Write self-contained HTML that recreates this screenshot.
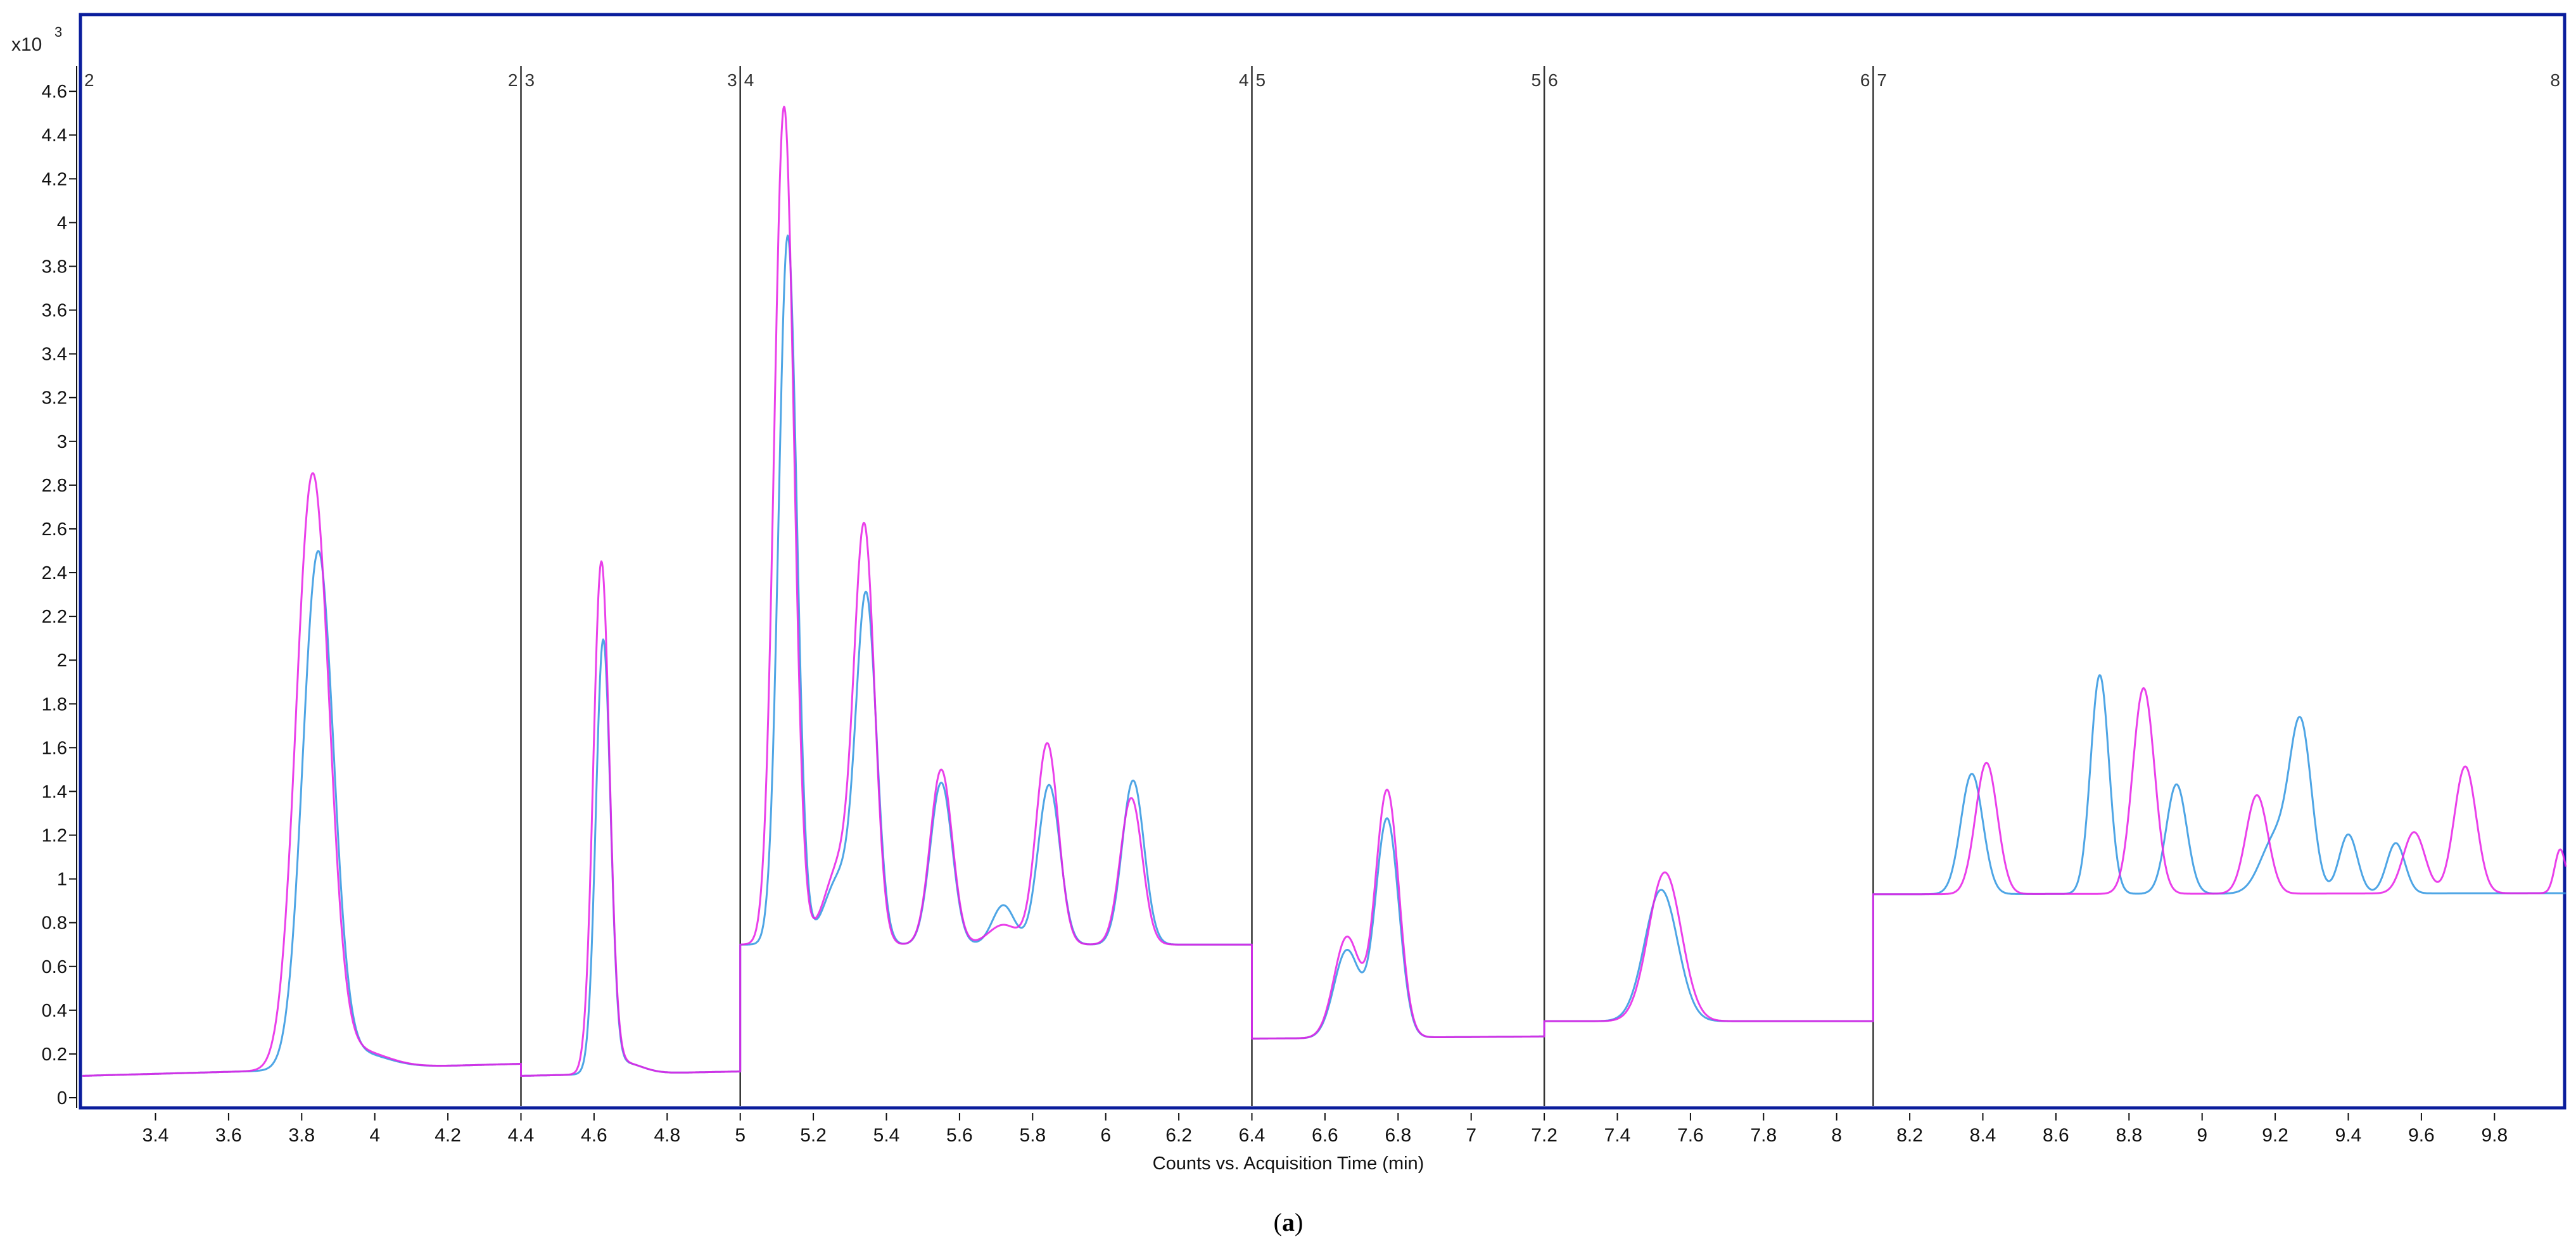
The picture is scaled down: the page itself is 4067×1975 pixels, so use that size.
<!DOCTYPE html>
<html><head><meta charset="utf-8"><style>
html,body{margin:0;padding:0;background:#fff;}
svg{display:block;font-family:"Liberation Sans",sans-serif;}
</style></head><body>
<svg id="chart" width="4067" height="1975" viewBox="0 0 4067 1975" xmlns="http://www.w3.org/2000/svg">
<g id="axes"></g>
<g id="plot"></g>
<text x="18" y="80" font-size="30" fill="#222">x10</text>
<text x="86" y="58" font-size="22" fill="#222">3</text>
<text x="2034" y="1846" font-size="29" fill="#111" text-anchor="middle">Counts vs. Acquisition Time (min)</text>
<text x="2034" y="1943" font-size="40" font-family="Liberation Serif, serif" fill="#000" text-anchor="middle">(<tspan font-weight="bold">a</tspan>)</text>
</svg>
<script>
// ---- data ----
const segStarts = [3.2, 4.4, 5.0, 6.4, 7.2, 8.1];
const segEnds   = [4.4, 5.0, 6.4, 7.2, 8.1, 10.0];
const baseStart = [0.10, 0.10, 0.70, 0.27, 0.35, 0.93];
const baseEnd   = [0.155, 0.12, 0.70, 0.28, 0.35, 0.935];
const magentaTimes   = [3.83, 3.95, 4.62, 4.68, 5.12, 5.27, 5.34, 5.55, 5.72, 5.84, 6.07, 6.66, 6.77, 7.53, 8.41, 8.84, 9.15, 9.58, 9.72, 9.98];
const magentaHeights = [2.70, 0.08, 2.32, 0.05, 3.83, 0.35, 1.85, 0.80, 0.09, 0.92, 0.67, 0.46, 1.13, 0.68, 0.60, 0.94, 0.45, 0.28, 0.58, 0.20];
const magentaWidths  = [0.045,0.08,0.022,0.05,0.027,0.04,0.028,0.03,0.04,0.03,0.03,0.035,0.032,0.045,0.03,0.03,0.03,0.03,0.03,0.015];
const blueTimes   = [3.845, 3.95, 4.625, 4.68, 5.13, 5.27, 5.345, 5.55, 5.72, 5.845, 6.075, 6.66, 6.77, 7.52, 8.37, 8.72, 8.93, 9.20, 9.27, 9.40, 9.53];
const blueHeights = [2.34, 0.07, 1.96, 0.05, 3.24, 0.30, 1.56, 0.74, 0.18, 0.73, 0.75, 0.40, 1.00, 0.60, 0.55, 1.00, 0.50, 0.25, 0.75, 0.27, 0.23];
const blueWidths  = [0.042,0.08,0.02,0.05,0.025,0.04,0.028,0.03,0.03,0.03,0.03,0.035,0.032,0.045,0.03,0.025,0.028,0.04,0.03,0.025,0.025];
const yTicks = [0,0.2,0.4,0.6,0.8,1,1.2,1.4,1.6,1.8,2,2.2,2.4,2.6,2.8,3,3.2,3.4,3.6,3.8,4,4.2,4.4,4.6];
const xTicks = [3.4,3.6,3.8,4,4.2,4.4,4.6,4.8,5,5.2,5.4,5.6,5.8,6,6.2,6.4,6.6,6.8,7,7.2,7.4,7.6,7.8,8,8.2,8.4,8.6,8.8,9,9.2,9.4,9.6,9.8];
const segLabels = ["2","3","4","5","6","7","8"];

// ---- scales ----
function X(t){ return 245.5 + (t - 3.4) * 577; }
function Y(v){ return 1733 - v * 345.4; }
const NS = "http://www.w3.org/2000/svg";
function mk(tag, attrs, parent){ const e=document.createElementNS(NS,tag); for(const k in attrs) e.setAttribute(k,attrs[k]); parent.appendChild(e); return e; }
const axes = document.getElementById('axes');
const plot = document.getElementById('plot');

const frame = mk('rect',{x:127,y:23,width:3922,height:1726,fill:'none',stroke:'#0a1d9c','stroke-width':5},axes);


const yline = mk('line',{x1:121,y1:104,x2:121,y2:1749,stroke:'#111','stroke-width':2},axes);



yTicks.forEach(v=>{
  const tk = mk('line',{x1:109,y1:Y(v),x2:121,y2:Y(v),stroke:'#111','stroke-width':2},axes);
  
  
  const tx = mk('text',{x:106,y:Y(v)+10,'font-size':29,'text-anchor':'end',fill:'#111'},axes);
  
  
  tx.textContent = String(v);
});
xTicks.forEach(t=>{
  const tk = mk('line',{x1:X(t),y1:1757,x2:X(t),y2:1769,stroke:'#111','stroke-width':2},axes);
  
  
  const tx = mk('text',{x:X(t),y:1802,'font-size':30,'text-anchor':'middle',fill:'#111'},axes);
  
  
  tx.textContent = String(t);
});

const first = mk('text',{x:133,y:136,'font-size':28,fill:'#333'},axes);


first.textContent = segLabels[0];
for(let i=1;i<segStarts.length;i++){
  const xb = X(segStarts[i]);
  const ln = mk('line',{x1:xb,y1:104,x2:xb,y2:1746,stroke:'#333','stroke-width':2.5},axes);
  
  
  const l1 = mk('text',{x:xb-5,y:136,'font-size':28,fill:'#333','text-anchor':'end'},axes);
  
  
  l1.textContent = segLabels[i-1];
  const l2 = mk('text',{x:xb+6,y:136,'font-size':28,fill:'#333'},axes);
  
  
  l2.textContent = segLabels[i];
}
const last = mk('text',{x:4042,y:136,'font-size':28,fill:'#333','text-anchor':'end'},axes);


last.textContent = segLabels[segLabels.length-1];

function value(t, si, times, heights, widths){
  const f = (t - segStarts[si])/(segEnds[si]-segStarts[si]);
  let v = baseStart[si] + (baseEnd[si]-baseStart[si])*f;
  for(let k=0;k<times.length;k++){
    if(times[k]>=segStarts[si] && times[k]<segEnds[si]){
      const d=(t-times[k])/widths[k];
      v += heights[k]*Math.exp(-0.5*d*d);
    }
  }
  return v;
}
function drawSeries(times, heights, widths, color, name){
  let d='';
  for(let si=0;si<segStarts.length;si++){
    const a=segStarts[si], b=Math.min(segEnds[si],9.995);
    const n=Math.ceil((b-a)*600);
    for(let j=0;j<=n;j++){
      const t=a+(b-a)*j/n;
      d += (j===0 && si===0 ? 'M':'L') + X(t).toFixed(1)+','+Y(value(t,si,times,heights,widths)).toFixed(1);
    }
  }
  const p = mk('path',{d:d,fill:'none',stroke:color,'stroke-width':3,'stroke-linejoin':'round','stroke-opacity':0.85},plot);
  
  
}
drawSeries(blueTimes, blueHeights, blueWidths, '#2f95e0', 'series-blue');
drawSeries(magentaTimes, magentaHeights, magentaWidths, '#e61ee6', 'series-magenta');
</script>
</body></html>
